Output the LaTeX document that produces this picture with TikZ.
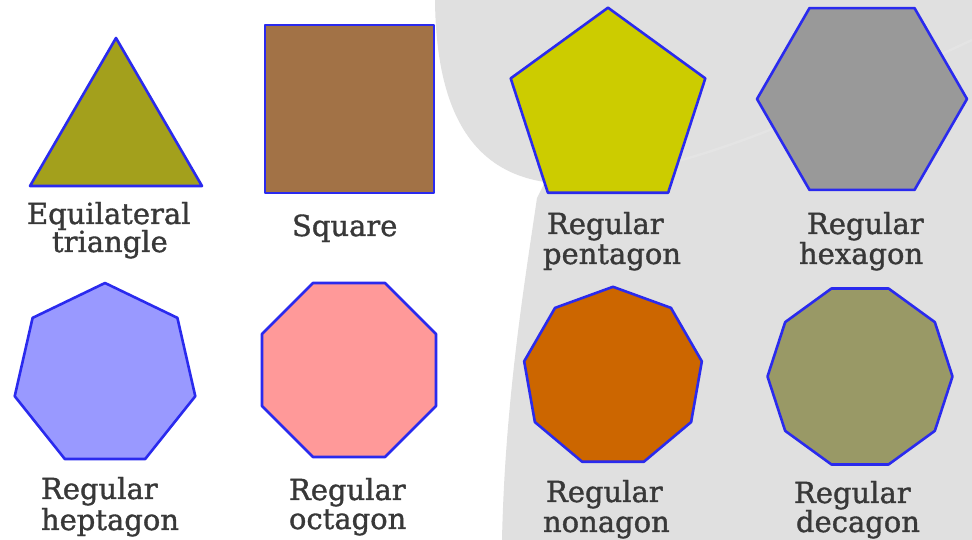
\documentclass[tikz,border=0pt]{standalone}
\usepackage{fontspec}
\setmainfont{DejaVu Serif}[FakeBold=1.2]
\definecolor{edgeblue}{HTML}{2A2AEE}
\definecolor{bggray}{HTML}{E0E0E0}
\definecolor{bandgray}{HTML}{E4E4E4}
\definecolor{txtgray}{HTML}{383838}
\definecolor{ctri}{HTML}{A3A01C}
\definecolor{csq}{HTML}{A27246}
\definecolor{cpent}{HTML}{CCCC00}
\definecolor{chex}{HTML}{999999}
\definecolor{chept}{HTML}{9999FF}
\definecolor{coct}{HTML}{FF9999}
\definecolor{cnon}{HTML}{CC6600}
\definecolor{cdec}{HTML}{999966}
\tikzset{
  poly/.style={draw=edgeblue, line width=2.6pt, line join=round},
  lbl/.style={inner sep=0pt, outer sep=0pt, anchor=base west, text=txtgray,
    font=\fontsize{29}{32}\selectfont},
}
\begin{document}
\begin{tikzpicture}[x=1pt,y=1pt]
\useasboundingbox (0,0) rectangle (972,540);
\fill[white] (0,0) rectangle (972,540);
% background silhouette
\fill[bggray] (435,540) .. controls (436,440) and (465,370) .. (545,358)
  -- (537,342) .. controls (525,260) and (505,140) .. (502,0)
  -- (972,0) -- (972,540) -- cycle;
\draw[bandgray, line width=2.5pt] (545,358) .. controls (680,362) and (800,420) .. (972,500);
% shapes
\draw[poly, fill=ctri] (116,502) -- (30,354) -- (202,354) -- cycle;
\draw[poly, fill=csq] (265,515) rectangle (434,347);
\coordinate (cpen) at (608,430);
\draw[poly, fill=cpent] (cpen) +(90:102.3) \foreach \k in {1,...,4}{ -- +(90+72*\k:102.3)} -- cycle;
\coordinate (chx) at (862,441);
\draw[poly, fill=chex] (chx) +(0:105) \foreach \k in {1,...,5}{ -- +(60*\k:105)} -- cycle;
\coordinate (chp) at (105,164.4);
\draw[poly, fill=chept] (chp) +(90:92.6) \foreach \k in {1,...,6}{ -- +(90+360/7*\k:92.6)} -- cycle;
\coordinate (coc) at (349,170);
\draw[poly, fill=coct] (coc) +(22.5:94.2) \foreach \k in {1,...,7}{ -- +(22.5+45*\k:94.2)} -- cycle;
\coordinate (cno) at (613,163);
\draw[poly, fill=cnon] (cno) +(90:90.2) \foreach \k in {1,...,8}{ -- +(90+40*\k:90.2)} -- cycle;
\coordinate (cde) at (860,163.5);
\draw[poly, fill=cdec] (cde) +(0:92.5) \foreach \k in {1,...,9}{ -- +(36*\k:92.5)} -- cycle;
% labels
\node[lbl] (l1a) at (27,316) {Equilateral};
\node[lbl] (l1b) at (52,288) {triangle};
\node[lbl] (l2) at (292,304) {Square};
\node[lbl] (l3a) at (547,306) {Regular};
\node[lbl] (l3b) at (543,276) {pentagon};
\node[lbl] (l4a) at (807,306) {Regular};
\node[lbl] (l4b) at (799,276) {hexagon};
\node[lbl] (l5a) at (41,41) {Regular};
\node[lbl] (l5b) at (41,10) {heptagon};
\node[lbl] (l6a) at (289,40) {Regular};
\node[lbl] (l6b) at (289,11) {octagon};
\node[lbl] (l7a) at (546,38) {Regular};
\node[lbl] (l7b) at (543,8) {nonagon};
\node[lbl] (l8a) at (794,37) {Regular};
\node[lbl] (l8b) at (796,8) {decagon};
\end{tikzpicture}
\end{document}
